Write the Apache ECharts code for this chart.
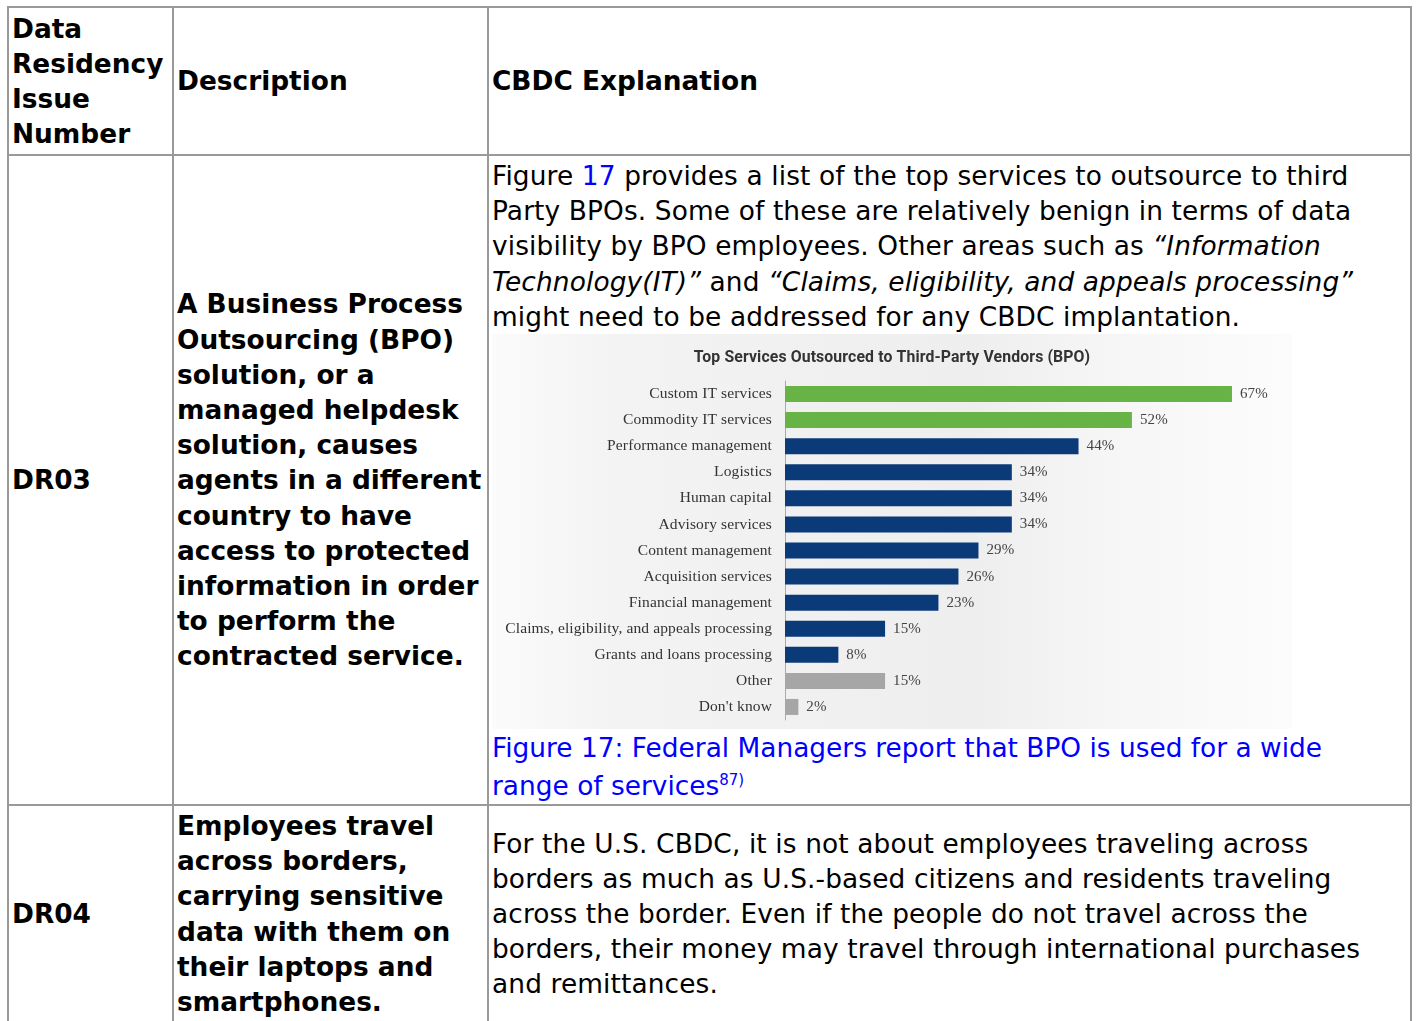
<!DOCTYPE html>
<html>
<head>
<meta charset="utf-8">
<script src="https://cdn.jsdelivr.net/npm/echarts@6/dist/echarts.min.js"></script>
<style>
  body { margin: 0; background: #fff; color: #000; font-family: "DejaVu Sans", sans-serif; font-size: 26.4px; line-height: 35.2px; }
  table { position: absolute; left: 7px; top: 6px; border-collapse: collapse; table-layout: fixed; width: 1405px; }
  td, th { border: 2px solid #999; padding: 2px 1px 2px 3px; vertical-align: middle; text-align: left; }
  th, td.b { font-weight: bold; }
  td.t { letter-spacing: 0.12px; }
  a { color: #0000ff; text-decoration: none; }
  .cap { width: 850px; line-height: 38px; color: #0000ff; letter-spacing: 0; margin-bottom: -3px; }
  .cap sup { font-size: 15px; line-height: 0; }
  #chart { width: 800px; height: 395px; margin: 0; }
</style>
</head>
<body>
<table>
  <colgroup><col style="width:165px"><col style="width:315px"><col></colgroup>
  <tr style="height:148px">
    <th>Data Residency Issue Number</th>
    <th>Description</th>
    <th>CBDC Explanation</th>
  </tr>
  <tr>
    <td class="b">DR03</td>
    <td class="b">A Business Process Outsourcing (BPO) solution, or a managed helpdesk solution, causes agents in a different country to have access to protected information in order to perform the contracted service.</td>
    <td class="t">Figure <a>17</a> provides a list of the top services to outsource to third Party BPOs. Some of these are relatively benign in terms of data visibility by BPO employees. Other areas such as <i>“Information Technology(IT)”</i> and <i>“Claims, eligibility, and appeals processing”</i> might need to be addressed for any CBDC implantation.
      <div id="chart"></div>
      <div class="cap">Figure 17: Federal Managers report that BPO is used for a wide range of services<sup>87)</sup></div>
    </td>
  </tr>
  <tr>
    <td class="b">DR04</td>
    <td class="b">Employees travel across borders, carrying sensitive data with them on their laptops and smartphones.</td>
    <td class="t">For the U.S. CBDC, it is not about employees traveling across borders as much as U.S.-based citizens and residents traveling across the border. Even if the people do not travel across the borders, their money may travel through international purchases and remittances.</td>
  </tr>
</table>
<script>
const categories = [
  "Custom IT services",
  "Commodity IT services",
  "Performance management",
  "Logistics",
  "Human capital",
  "Advisory services",
  "Content management",
  "Acquisition services",
  "Financial management",
  "Claims, eligibility, and appeals processing",
  "Grants and loans processing",
  "Other",
  "Don't know"
];
const shares = [67, 52, 44, 34, 34, 34, 29, 26, 23, 15, 8, 15, 2];
const itCategories = ["Custom IT services", "Commodity IT services"];
const otherCategories = ["Other", "Don't know"];

const chart = echarts.init(document.getElementById("chart"));

const option = {
  backgroundColor: {
    type: "linear", x: 0, y: 0, x2: 1, y2: 0,
    colorStops: [
      { offset: 0, color: "#fbfbfb" },
      { offset: 0.15, color: "#f3f3f3" },
      { offset: 0.6, color: "#eeeeee" },
      { offset: 0.78, color: "#f6f6f6" },
      { offset: 1, color: "#fcfcfc" }
    ]
  },
  animation: false,
  title: {
    text: "Top Services Outsourced to Third-Party Vendors (BPO)",
    left: "center",
    top: 11,
    textStyle: { fontFamily: "Roboto", fontSize: 15.8, fontWeight: "bold", color: "#333" }
  },
  grid: { left: 293, right: 40, top: 47, bottom: 9 },
  xAxis: {
    type: "value",
    min: 0,
    max: 70,
    show: false
  },
  yAxis: {
    type: "category",
    inverse: true,
    data: categories,
    axisLine: { show: true, lineStyle: { color: "#aaa", width: 1 } },
    axisTick: { show: false },
    axisLabel: { margin: 13, fontFamily: "Liberation Serif", fontSize: 15.5, color: "#333" }
  },
  series: [
    {
      type: "bar",
      data: shares,
      barWidth: 16,
      itemStyle: {
        color: (p) => itCategories.includes(p.name) ? "#67b346"
          : otherCategories.includes(p.name) ? "#a6a6a6" : "#0b3a78"
      },
      label: {
        show: true,
        position: "right",
        distance: 8,
        formatter: "{c}%",
        fontFamily: "Liberation Serif",
        fontSize: 15,
        color: "#444"
      }
    }
  ]
};

option && chart.setOption(option);
</script>
</body>
</html>
